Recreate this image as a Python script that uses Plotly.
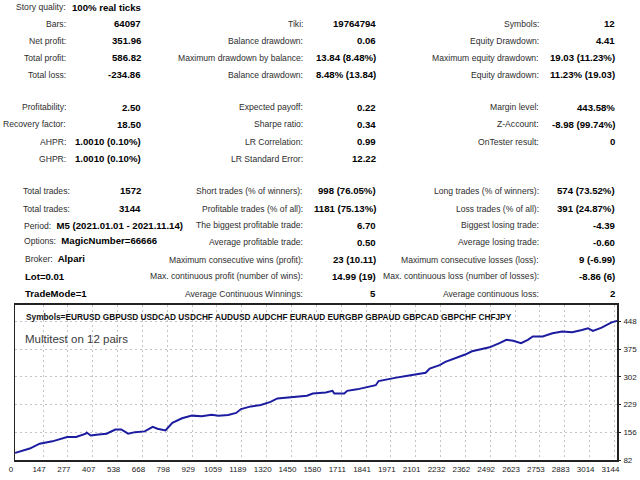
import plotly.graph_objects as go

# ---------------- data ----------------
top_c1_labels = ["Story quality:", "Bars:", "Net profit:", "Total profit:", "Total loss:",
                 "Profitability:", "Recovery factor:", "AHPR:", "GHPR:"]
top_c1_values = ["100% real ticks", "64097", "351.96", "586.82", "-234.86",
                 "2.50", "18.50", "1.0010 (0.10%)", "1.0010 (0.10%)"]
top_c2_labels = ["", "Tiki:", "Balance drawdown:", "Maximum drawdown by balance:", "Balance drawdown:",
                 "Expected payoff:", "Sharpe ratio:", "LR Correlation:", "LR Standard Error:"]
top_c2_values = ["", "19764794", "0.06", "13.84 (8.48%)", "8.48% (13.84)",
                 "0.22", "0.34", "0.99", "12.22"]
top_c3_labels = ["", "Symbols:", "Equity Drawdown:", "Maximum equity drawdown:", "Equity drawdown:",
                 "Margin level:", "Z-Account:", "OnTester result:", ""]
top_c3_values = ["", "12", "4.41", "19.03 (11.23%)", "11.23% (19.03)",
                 "443.58%", "-8.98 (99.74%)", "0", ""]

low_c1_labels = ["Total trades:", "Total trades:"]
low_c1_values = ["1572", "3144"]
low_c1_extra_labels = ["Period:", "Options:", "Broker:", "", ""]
low_c1_extra_values = ["M5 (2021.01.01 - 2021.11.14)", "MagicNumber=66666", "Alpari",
                       "Lot=0.01", "TradeMode=1"]
low_c2_labels = ["Short trades (% of winners):", "Profitable trades (% of all):",
                 "The biggest profitable trade:", "Average profitable trade:",
                 "Maximum consecutive wins (profit):", "Max. continuous profit (number of wins):",
                 "Average Continuous Winnings:"]
low_c2_values = ["998 (76.05%)", "1181 (75.13%)", "6.70", "0.50", "23 (10.11)", "14.99 (19)", "5"]
low_c3_labels = ["Long trades (% of winners):", "Loss trades (% of all):", "Biggest losing trade:",
                 "Average losing trade:", "Maximum consecutive losses (loss):",
                 "Max. continuous loss (number of losses):", "Average continuous loss:"]
low_c3_values = ["574 (73.52%)", "391 (24.87%)", "-4.39", "-0.60", "9 (-6.99)", "-8.86 (6)", "2"]

chart_symbols = "Symbols=EURUSD GBPUSD USDCAD USDCHF AUDUSD AUDCHF EURAUD EURGBP GBPAUD GBPCAD GBPCHF CHFJPY"
chart_title = "Multitest on 12 pairs"

trade_no = [0, 5, 77, 129, 196, 247, 273, 320, 371, 376, 397, 438, 480, 526, 557, 593, 629, 680,
            722, 747, 773, 789, 825, 876, 928, 979, 1031, 1067, 1118, 1160, 1185, 1237, 1289,
            1340, 1376, 1428, 1495, 1531, 1562, 1598, 1630, 1665, 1675, 1727, 1742, 1794, 1830,
            1892, 1907, 1948, 2000, 2051, 2103, 2154, 2175, 2227, 2257, 2309, 2361, 2397, 2438,
            2489, 2541, 2577, 2613, 2654, 2690, 2716, 2768, 2819, 2871, 2922, 2974, 3005, 3031,
            3077, 3129, 3158]
balance = [101, 102, 112.6, 125.6, 131.7, 138.7, 143, 143, 151.8, 155, 147, 150, 152, 163, 163,
           152, 156, 158, 170, 165, 163, 160.4, 180.5, 192.6, 199.6, 198, 202, 199.6, 201.5,
           206.7, 217, 224, 227.6, 236, 245, 247.5, 250, 252, 258, 259, 261, 265, 258, 258, 265,
           269, 273.6, 280, 291, 295.6, 300, 304, 308.6, 313, 324, 333, 341.6, 350.5, 361,
           369.5, 374, 380, 391, 400, 397.5, 391, 400, 408.7, 408.7, 417, 421.8, 420, 426,
           430.5, 423.6, 432, 446, 450]

x_ticks = [0, 147, 277, 407, 538, 668, 798, 929, 1059, 1189, 1320, 1450, 1580, 1711, 1841,
           1971, 2101, 2232, 2362, 2492, 2623, 2753, 2883, 3014, 3144]
y_ticks = [82, 156, 229, 302, 375, 448]

# ---------------- layout helpers ----------------
W, H = 640, 480
FONT = "Liberation Sans, Arial, sans-serif"
NARROW = "Liberation Sans Narrow, Liberation Sans, Arial, sans-serif"
LAB = dict(family=FONT, size=8.6, color="#2e2e2e")
VAL = dict(family=FONT, size=9.6, color="#000000", weight="bold")


def px(x):
    return x / W


def py(y):
    return 1 - y / H


ann = []


def add(text, x, y, anchor, font):
    if text:
        ann.append(dict(text=text, x=px(x), y=py(y), xref="paper", yref="paper",
                        xanchor=anchor, yanchor="middle", showarrow=False, font=font))


top_rows = [7.3, 24.2, 41.3, 58.5, 75.6, 108.4, 125.8, 143.1, 160.3]
for i, yy in enumerate(top_rows):
    add(top_c1_labels[i], 63, yy, "right", LAB)
    add(top_c1_values[i], 139, yy, "right", VAL)
    add(top_c2_labels[i], 303, yy, "right", LAB)
    add(top_c2_values[i], 377, yy, "right", VAL)
    add(top_c3_labels[i], 543, yy, "right", LAB)
    add(top_c3_values[i], 620, yy, "right", VAL)

low_rows = [193, 210.7, 227.7, 245.0, 262.3, 279.2, 296.7]
for i in range(2):
    add(low_c1_labels[i], 15, low_rows[i], "left", LAB)
    add(low_c1_values[i], 139, low_rows[i], "right", VAL)
low_c1_x = [16, 16, 17, 17, 17]
low_c1_y = [227.7, 243.5, 261.7, 279.0, 296.7]
for lab, val, xx, yy in zip(low_c1_extra_labels, low_c1_extra_values, low_c1_x, low_c1_y):
    if lab:
        txt = "<span style='font-weight:normal;color:#2e2e2e;font-size:8.6px'>" + lab + "</span>  " + val
    else:
        txt = val
    add(txt, xx, yy, "left", VAL)
for i, yy in enumerate(low_rows):
    add(low_c2_labels[i], 303, yy, "right", LAB)
    add(low_c2_values[i], 377, yy, "right", VAL)
    add(low_c3_labels[i], 543, yy, "right", LAB)
    add(low_c3_values[i], 620, yy, "right", VAL)

add(chart_symbols, 18, 320.5, "left",
    dict(family=FONT, size=8.3, color="#111111", weight="bold"))
add(chart_title, 17, 343, "left", dict(family=FONT, size=11.5, color="#3a3a3a"))

# ---------------- figure ----------------
fig = go.Figure()
fig.add_trace(go.Scatter(x=trade_no, y=balance, mode="lines",
                         line=dict(color="#1c1ca0", width=2), hoverinfo="skip"))

plot_left, plot_right, plot_top, plot_bottom = 9.2, 620, 308, 465
fig.update_layout(
    width=W, height=H, margin=dict(l=0, r=0, t=0, b=0),
    paper_bgcolor="white", plot_bgcolor="white", showlegend=False,
    annotations=ann,
    xaxis=dict(domain=[px(plot_left), px(plot_right)], range=[0, 3159],
               tickvals=x_ticks, ticktext=[str(v) for v in x_ticks],
               showgrid=True, gridcolor="#c4c4c4", griddash="2px,3px", gridwidth=1,
               showline=True, linecolor="#222222", linewidth=1.5, mirror=True,
               ticks="", tickfont=dict(family=NARROW, size=8, color="#222222"),
               ticklabelshift=-4, ticklabelstandoff=1, ticklabeloverflow="allow",
               zeroline=False, fixedrange=True),
    yaxis=dict(domain=[py(plot_bottom), py(plot_top)], range=[82, 492.4], side="right",
               tickvals=y_ticks, ticktext=[str(v) for v in y_ticks],
               showgrid=True, gridcolor="#c4c4c4", griddash="2px,3px", gridwidth=1,
               showline=True, linecolor="#222222", linewidth=1.5, mirror=True,
               ticks="outside", ticklen=2, tickcolor="#222222",
               tickfont=dict(family=NARROW, size=8, color="#222222"),
               ticklabelstandoff=1, ticklabeloverflow="allow",
               zeroline=False, fixedrange=True),
)

fig.write_html("out.html",
               config={"displayModeBar": False, "staticPlot": True},
               post_script="document.body.style.margin='0px';"
                           "document.documentElement.style.overflow='hidden';")
